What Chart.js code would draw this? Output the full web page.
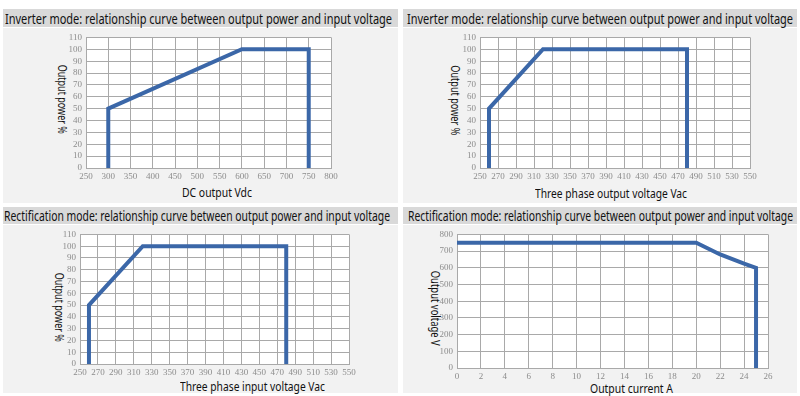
<!DOCTYPE html>
<html>
<head>
<meta charset="utf-8">
<script src="https://cdn.jsdelivr.net/npm/chart.js@4.4.1/dist/chart.umd.min.js"></script>
<style>
    html, body { margin: 0; padding: 0; background: #ffffff; }
    #wrapper { position: relative; width: 800px; height: 396px; overflow: hidden; font-family: "Noto Sans", "Liberation Sans Narrow", sans-serif; }
    .head { position: absolute; background: #d9d9d9; }
    .body { position: absolute; background: #f2f2f2; }
    .txt { position: absolute; white-space: nowrap; color: #111111; line-height: 1; }
    .head-txt { font-size: 14.5px; transform-origin: left center; }
    .x-title { font-size: 13px; transform-origin: left center; }
    .y-title { font-size: 12.5px; transform-origin: center center; }
    canvas { position: absolute; }
</style>
</head>
<body>
<div id="wrapper"></div>
<script>
"use strict"

// --- dati ---
const inverterDcVoltage = [300, 300, 600, 750, 750];
const inverterDcPower = [0, 50, 100, 100, 0];

const inverterAcVoltage = [260, 260, 320, 480, 480];
const inverterAcPower = [0, 50, 100, 100, 0];

const rectifierAcVoltage = [260, 260, 320, 480, 480];
const rectifierAcPower = [0, 50, 100, 100, 0];

const rectifierCurrent = [0, 20, 22, 24, 25, 25];
const rectifierVoltage = [750, 750, 680, 625, 600, 0];

// assi: [min, max, passo]
const dcVoltageTicks = [250, 800, 50];
const acVoltageTicks = [250, 550, 20];
const powerTicks = [0, 110, 10];
const currentTicks = [0, 26, 2];
const voltageTicks = [0, 800, 100];

const INVERTER_TITLE = "Inverter mode: relationship curve between output power and input voltage";
const RECTIFIER_TITLE = "Rectification mode: relationship curve between output power and input voltage";

const LINE_COLOR = "#3b67a8";
const GRID_COLOR = "#a9a9a9";

// pannelli: posizioni in pixel della pagina
const panels = [
    {
        title: INVERTER_TITLE, head: [3, 9, 395, 18], body: [3, 28, 395, 175],
        headText: [5, 387], plot: [86, 35, 331, 168],
        xTitle: "DC output Vdc", xTitlePos: [182, 192, 70],
        yTitle: "Output power %", yTitlePos: [62, 99, 69],
        xs: inverterDcVoltage, ys: inverterDcPower, xTicks: dcVoltageTicks, yTicks: powerTicks
    },
    {
        title: INVERTER_TITLE, head: [403, 9, 394, 18], body: [403, 28, 394, 175],
        headText: [407, 386], plot: [480, 36, 750, 168],
        xTitle: "Three phase output voltage Vac", xTitlePos: [535, 193, 152],
        yTitle: "Output power %", yTitlePos: [455, 100, 70],
        xs: inverterAcVoltage, ys: inverterAcPower, xTicks: acVoltageTicks, yTicks: powerTicks
    },
    {
        title: RECTIFIER_TITLE, head: [3, 207, 395, 17], body: [3, 225, 395, 168],
        headText: [4, 386], plot: [80, 232, 349, 364],
        xTitle: "Three phase input voltage Vac", xTitlePos: [180, 386, 145],
        yTitle: "Output power %", yTitlePos: [59, 307, 69],
        xs: rectifierAcVoltage, ys: rectifierAcPower, xTicks: acVoltageTicks, yTicks: powerTicks
    },
    {
        title: RECTIFIER_TITLE, head: [403, 207, 394, 17], body: [403, 225, 394, 168],
        headText: [408, 385], plot: [457, 232, 768, 368],
        xTitle: "Output current A", xTitlePos: [590, 388, 83],
        yTitle: "Output voltage V", yTitlePos: [435, 308, 75],
        xs: rectifierCurrent, ys: rectifierVoltage, xTicks: currentTicks, yTicks: voltageTicks
    }
];

// sfondo bianco dell'area del grafico
const plotBackground = {
    id: "plotBackground",
    beforeDraw(chart) {
        const a = chart.chartArea;
        const ctx = chart.ctx;
        ctx.save();
        ctx.fillStyle = "#ffffff";
        ctx.fillRect(a.left, a.top, a.right - a.left, a.bottom - a.top);
        ctx.restore();
    }
};

const Y_AXIS_W = 30;
const X_AXIS_H = 16;

function box(cls, r) {
    let d = document.createElement("div");
    d.className = cls;
    d.style.left = r[0] + "px";
    d.style.top = r[1] + "px";
    d.style.width = r[2] + "px";
    d.style.height = r[3] + "px";
    document.getElementById("wrapper").appendChild(d);
    return d;
}

function text(cls, str) {
    let s = document.createElement("div");
    s.className = "txt " + cls;
    s.textContent = str;
    document.getElementById("wrapper").appendChild(s);
    return s;
}

panels.forEach(p => {
    box("head", p.head);
    box("body", p.body);

    // titolo del pannello, compresso alla larghezza dell'originale
    let ht = text("head-txt", p.title);
    let r = ht.getBoundingClientRect();
    ht.style.left = p.headText[0] + "px";
    ht.style.top = (p.head[1] + p.head[3] / 2 - r.height / 2) + "px";
    ht.style.transform = "scaleX(" + (p.headText[1] / r.width) + ")";

    // titolo asse x
    let xt = text("x-title", p.xTitle);
    r = xt.getBoundingClientRect();
    xt.style.left = p.xTitlePos[0] + "px";
    xt.style.top = (p.xTitlePos[1] - r.height / 2) + "px";
    xt.style.transform = "scaleX(" + (p.xTitlePos[2] / r.width) + ")";

    // titolo asse y: ruotato di 90° (si legge dall'alto in basso)
    let yt = text("y-title", p.yTitle);
    r = yt.getBoundingClientRect();
    yt.style.left = (p.yTitlePos[0] - r.width / 2) + "px";
    yt.style.top = (p.yTitlePos[1] - r.height / 2) + "px";
    yt.style.transform = "rotate(90deg) scaleX(" + (p.yTitlePos[2] / r.width) + ")";

    // canvas = corpo del pannello
    let canvas = document.createElement("canvas");
    canvas.width = p.body[2];
    canvas.height = p.body[3];
    canvas.style.left = p.body[0] + "px";
    canvas.style.top = p.body[1] + "px";
    canvas.style.width = p.body[2] + "px";
    canvas.style.height = p.body[3] + "px";
    document.getElementById("wrapper").appendChild(canvas);

    let padLeft = p.plot[0] - p.body[0] - Y_AXIS_W;
    let padTop = p.plot[1] - p.body[1];
    let padRight = p.body[0] + p.body[2] - p.plot[2];
    let padBottom = p.body[1] + p.body[3] - p.plot[3] - X_AXIS_H;

    let points = p.xs.map((x, i) => ({ x: x, y: p.ys[i] }));

    new Chart(canvas, {
        type: "line",
        data: {
            datasets: [{
                data: points,
                borderColor: LINE_COLOR,
                borderWidth: 4,
                pointRadius: 0,
                borderJoinStyle: "miter",
                tension: 0,
                fill: false
            }]
        },
        options: {
            responsive: false,
            animation: false,
            events: [],
            layout: { padding: { left: padLeft, top: padTop, right: padRight, bottom: padBottom } },
            plugins: { legend: { display: false }, tooltip: { enabled: false } },
            scales: {
                x: {
                    type: "linear",
                    min: p.xTicks[0], max: p.xTicks[1],
                    afterFit: scale => { scale.height = X_AXIS_H; },
                    border: { color: GRID_COLOR, width: 1 },
                    grid: { color: GRID_COLOR, drawTicks: false },
                    ticks: {
                        stepSize: p.xTicks[2], autoSkip: false, maxRotation: 0, padding: 3,
                        color: "#8c8c8c", font: { family: "Liberation Sans Narrow", size: 9 }
                    }
                },
                y: {
                    type: "linear",
                    min: p.yTicks[0], max: p.yTicks[1],
                    afterFit: scale => { scale.width = Y_AXIS_W; },
                    border: { color: GRID_COLOR, width: 1 },
                    grid: { color: GRID_COLOR, drawTicks: false },
                    ticks: {
                        stepSize: p.yTicks[2], autoSkip: false, padding: 4,
                        color: "#8c8c8c", font: { family: "Liberation Sans Narrow", size: 9 }
                    }
                }
            }
        },
        plugins: [plotBackground]
    });
});
</script>
</body>
</html>
